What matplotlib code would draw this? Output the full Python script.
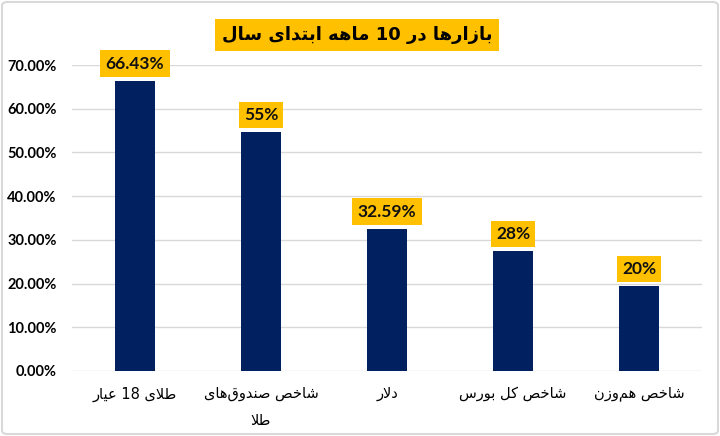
import matplotlib
matplotlib.use("Agg")
import matplotlib.pyplot as plt
from matplotlib.patches import FancyBboxPatch
from matplotlib.ticker import FuncFormatter

# ---------------- data ----------------
title = "بازارها در 10 ماهه ابتدای سال"
categories = ["طلای 18 عیار", "شاخص صندوق‌های\nطلا", "دلار", "شاخص کل بورس", "شاخص هم‌وزن"]
values = [66.43, 54.7, 32.59, 27.4, 19.4]
value_labels = ["66.43%", "55%", "32.59%", "28%", "20%"]
yticks = [0, 10, 20, 30, 40, 50, 60, 70]

# ---------------- minimal Arabic/Persian shaping ----------------
# (isolated, final, initial, medial); right-joining letters have only 2 forms
FORMS = {
    "\u0627": ("\uFE8D", "\uFE8E"),
    "\u0628": ("\uFE8F", "\uFE90", "\uFE91", "\uFE92"),
    "\u062A": ("\uFE95", "\uFE96", "\uFE97", "\uFE98"),
    "\u062E": ("\uFEA5", "\uFEA6", "\uFEA7", "\uFEA8"),
    "\u062F": ("\uFEA9", "\uFEAA"),
    "\u0631": ("\uFEAD", "\uFEAE"),
    "\u0632": ("\uFEAF", "\uFEB0"),
    "\u0633": ("\uFEB1", "\uFEB2", "\uFEB3", "\uFEB4"),
    "\u0634": ("\uFEB5", "\uFEB6", "\uFEB7", "\uFEB8"),
    "\u0635": ("\uFEB9", "\uFEBA", "\uFEBB", "\uFEBC"),
    "\u0637": ("\uFEC1", "\uFEC2", "\uFEC3", "\uFEC4"),
    "\u0639": ("\uFEC9", "\uFECA", "\uFECB", "\uFECC"),
    "\u0642": ("\uFED5", "\uFED6", "\uFED7", "\uFED8"),
    "\u0644": ("\uFEDD", "\uFEDE", "\uFEDF", "\uFEE0"),
    "\u0645": ("\uFEE1", "\uFEE2", "\uFEE3", "\uFEE4"),
    "\u0646": ("\uFEE5", "\uFEE6", "\uFEE7", "\uFEE8"),
    "\u0647": ("\uFEE9", "\uFEEA", "\uFEEB", "\uFEEC"),
    "\u0648": ("\uFEED", "\uFEEE"),
    "\u06CC": ("\uFBFC", "\uFBFD", "\uFBFE", "\uFBFF"),
    "\u064A": ("\uFEF1", "\uFEF2", "\uFEF3", "\uFEF4"),
    "\u06A9": ("\uFB8E", "\uFB8F", "\uFB90", "\uFB91"),
}


def _dual(c):
    return c in FORMS and len(FORMS[c]) == 4


def _joining(c):
    return c in FORMS


def shape_line(s):
    out = []
    n = len(s)
    i = 0
    while i < n:
        c = s[i]
        if c not in FORMS:
            if c != "\u200c":
                out.append(c)
            i += 1
            continue
        prev = s[i - 1] if i > 0 else ""
        jp = _dual(prev)
        # lam-alef ligature
        if c == "\u0644" and i + 1 < n and s[i + 1] == "\u0627":
            out.append("\uFEFC" if jp else "\uFEFB")
            i += 2
            continue
        nxt = s[i + 1] if i + 1 < n else ""
        jn = _dual(c) and _joining(nxt)
        f = FORMS[c]
        if jp and jn:
            out.append(f[3])
        elif jp:
            out.append(f[1])
        elif jn:
            out.append(f[2])
        else:
            out.append(f[0])
        i += 1
    # visual order: reverse, keep digit runs left-to-right
    rev = out[::-1]
    res = []
    j = 0
    while j < len(rev):
        if rev[j].isdigit() or rev[j] in ".%":
            k = j
            while k < len(rev) and (rev[k].isdigit() or rev[k] in ".%"):
                k += 1
            res.extend(rev[j:k][::-1])
            j = k
        else:
            res.append(rev[j])
            j += 1
    return "".join(res)


def shape(s):
    return "\n".join(shape_line(line) for line in s.split("\n"))


# ---------------- figure ----------------
plt.rcParams["font.family"] = ["DejaVu Sans"]
fig = plt.figure(figsize=(7.2, 4.36), dpi=100)
W, H = 720, 436
ax = fig.add_axes([72 / W, 1 - 371 / H, (702 - 72) / W, (371 - 65) / H])

navy = "#002060"
gold = "#FFC000"
x = list(range(len(categories)))
bars = ax.bar(x, values, width=0.32, color=navy, zorder=3)

ax.set_xlim(-0.5, len(categories) - 0.5)
ax.set_ylim(0, 70)
ax.set_yticks(yticks)
ax.yaxis.set_major_formatter(FuncFormatter(lambda v, p: f"{v:.2f}%"))
ax.grid(axis="y", color="#d9d9d9", linewidth=1.0, zorder=0)
for sp in ax.spines.values():
    sp.set_visible(False)
ax.tick_params(axis="y", length=0, pad=11, labelsize=10.5)
for lab in ax.get_yticklabels():
    lab.set_fontweight("bold")
    lab.set_family(["Lato", "DejaVu Sans"])
ax.set_xticks(x)
ax.set_xticklabels([shape(c) for c in categories], fontsize=10.5, linespacing=2.0,
                   va="top")
ax.tick_params(axis="x", length=0, pad=11)

for xi, v, lab in zip(x, values, value_labels):
    ax.annotate(lab, (xi, v), xytext=(0, 6.5), textcoords="offset points",
                ha="center", va="bottom", fontsize=12.5, fontweight="bold",
                family=["Lato", "DejaVu Sans"], color="#111111", zorder=5,
                bbox=dict(boxstyle="square,pad=0.3", fc=gold, ec="none"))

fig.text(357 / W, 1 - 35 / H, shape(title), ha="center", va="center",
         fontsize=13, fontweight="bold", color="#000000",
         bbox=dict(boxstyle="square,pad=0.4", fc=gold, ec="none"))

# chart border
border = FancyBboxPatch((2 / W, 2 / H), 1 - 4 / W, 1 - 4 / H,
                        boxstyle="round,pad=0,rounding_size=0.008",
                        transform=fig.transFigure, fc="none", ec="#d9d9d9", lw=1.5)
fig.patches.append(border)

fig.savefig("out.png", dpi=100, facecolor="white")
